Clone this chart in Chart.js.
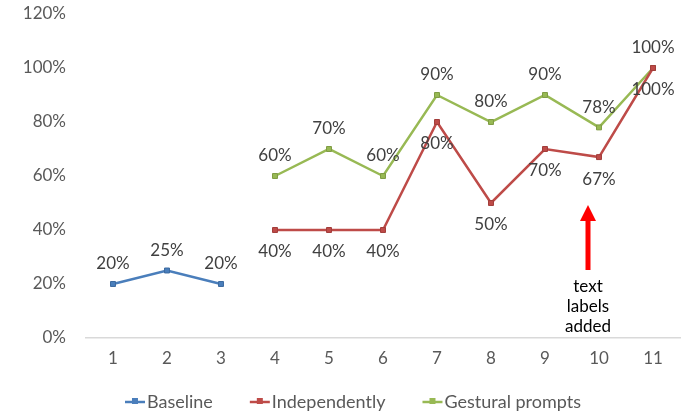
<!DOCTYPE html>
<html>
<head>
<meta charset="utf-8">
<script src="https://cdn.jsdelivr.net/npm/chart.js@4"></script>
<style>
  html, body { margin: 0; padding: 0; background: #fff; }
  #wrap { width: 690px; height: 416px; }
</style>
</head>
<body>
<div id="wrap"><canvas id="chart" width="690" height="416"></canvas></div>
<script>
// Sessions and percentages
const sessions = ['1', '2', '3', '4', '5', '6', '7', '8', '9', '10', '11'];
const baseline = [20, 25, 20, null, null, null, null, null, null, null, null];
const independently = [null, null, null, 40, 40, 40, 80, 50, 70, 67, 100];
const gestural = [null, null, null, 60, 70, 60, 90, 80, 90, 78, 100];
const yTicks = [0, 20, 40, 60, 80, 100, 120];
const noteLines = ['text', 'labels', 'added'];

const FONT = 'Lato, "Liberation Sans", sans-serif';

function series(label, data, color, border, labelPos) {
    return {
        label: label,
        data: data,
        borderColor: color,
        backgroundColor: color,
        pointBackgroundColor: color,
        pointBorderColor: border,
        pointBorderWidth: 1,
        pointStyle: 'rect',
        pointRadius: 3.5,
        borderWidth: 2.5,
        tension: 0,
        spanGaps: false,
        labelPos: labelPos
    };
}

// percentage labels next to each point
const valueLabels = {
    id: 'valueLabels',
    afterDatasetsDraw(chart) {
        const ctx = chart.ctx;
        ctx.save();
        ctx.font = '17px ' + FONT;
        ctx.fillStyle = '#404040';
        ctx.textAlign = 'center';
        ctx.textBaseline = 'middle';
        chart.data.datasets.forEach((ds, i) => {
            const meta = chart.getDatasetMeta(i);
            meta.data.forEach((pt, j) => {
                if (ds.data[j] == null) return;
                const dy = ds.labelPos === 'below' ? 22 : -20;
                ctx.fillText(ds.data[j] + '%', pt.x, pt.y + dy);
            });
        });
        ctx.restore();
    }
};

// legend drawn by hand: line+marker icon hugging the text, like Excel
const legendRow = {
    id: 'legendRow',
    afterDraw(chart) {
        const ctx = chart.ctx;
        const y = 402;
        ctx.save();
        ctx.font = '18px ' + FONT;
        ctx.textBaseline = 'middle';
        const items = chart.data.datasets.map(ds => ({ ds, w: 22 + ctx.measureText(ds.label).width }));
        const gap = 37;
        const total = items.reduce((a, it) => a + it.w, 0) + gap * (items.length - 1);
        let x = 353 - total / 2;
        items.forEach(it => {
            const c = it.ds.borderColor;
            ctx.strokeStyle = c;
            ctx.lineWidth = 2.5;
            ctx.beginPath();
            ctx.moveTo(x, y);
            ctx.lineTo(x + 20, y);
            ctx.stroke();
            ctx.fillStyle = c;
            ctx.fillRect(x + 7, y - 4, 6, 6);
            ctx.fillStyle = '#595959';
            ctx.textAlign = 'left';
            ctx.fillText(it.ds.label, x + 22, y);
            x += it.w + gap;
        });
        ctx.restore();
    }
};

// red arrow with the note underneath
const note = {
    id: 'note',
    afterDraw(chart) {
        const ctx = chart.ctx;
        const xs = chart.scales.x;
        const x = xs.getPixelForValue(9) - 11;
        ctx.save();
        ctx.fillStyle = '#ff0000';
        ctx.fillRect(x - 2.5, 220, 5, 50);
        ctx.beginPath();
        ctx.moveTo(x, 205);
        ctx.lineTo(x + 8, 221);
        ctx.lineTo(x - 8, 221);
        ctx.closePath();
        ctx.fill();
        ctx.fillStyle = '#000000';
        ctx.font = '17px ' + FONT;
        ctx.textAlign = 'center';
        ctx.textBaseline = 'middle';
        noteLines.forEach((t, k) => ctx.fillText(t, x, 287 + k * 20));
        ctx.restore();
    }
};

new Chart(document.getElementById('chart'), {
    type: 'line',
    data: {
        labels: sessions,
        datasets: [
            series('Baseline', baseline, '#4a7ebb', '#3c6aa0', 'above'),
            series('Independently', independently, '#be4b48', '#a23d3a', 'below'),
            series('Gestural prompts', gestural, '#98b954', '#7f9c44', 'above')
        ]
    },
    options: {
        responsive: false,
        animation: false,
        layout: { padding: { top: 14, right: 10, left: 0, bottom: 34 } },
        plugins: {
            tooltip: { enabled: false },
            legend: { display: false }
        },
        scales: {
            x: {
                offset: true,
                grid: { display: false, drawTicks: false },
                border: { display: true, color: '#d9d9d9', width: 1.5 },
                ticks: { color: '#595959', font: { family: FONT, size: 17 }, padding: 10 },
                afterFit(s) {
                    s.height = 44;
                    s.paddingLeft = 0; s.paddingRight = 0;
                }
            },
            y: {
                min: 0,
                max: 120,
                afterBuildTicks(s) { s.ticks = yTicks.map(v => ({ value: v })); },
                grid: { display: false, drawTicks: false },
                border: { display: false },
                ticks: {
                    color: '#595959',
                    font: { family: FONT, size: 17 },
                    padding: 20,
                    callback: v => v + '%'
                },
                afterFit(s) {
                    s.width = 86;
                    s.paddingTop = 0; s.paddingBottom = 0;
                }
            }
        }
    },
    plugins: [valueLabels, legendRow, note]
});
</script>
</body>
</html>
